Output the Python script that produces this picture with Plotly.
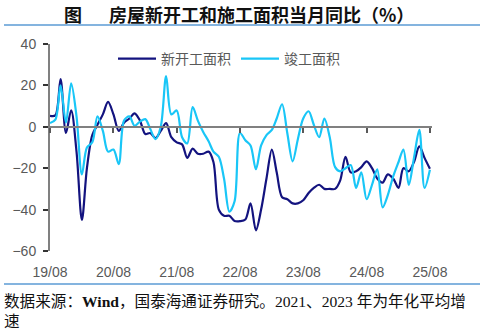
import pandas as pd
import plotly.graph_objects as go

# Monthly, 2019/08 - 2025/08
months = pd.date_range("2019-08-01", periods=73, freq="MS")

new_starts = [
    5.3, 5.5, 23, -3, 8, -12, -45, -20, -4, 1,
    6, 12, 6, -2, 2, 4, 6.5, 3, -3.5, -3,
    -5.5, -2, 1.8, -5, -7.5, -8.5, -15, -10.5, -13, -13,
    -12, -17, -40, -43, -43, -45.5, -45.6, -44.8, -37, -50,
    -40, -25, -11, -22, -34, -35, -37, -37, -35.5, -32,
    -29.5, -28, -30, -30, -30, -26, -14.5, -22, -21.5, -19.5,
    -16.7, -20, -25, -27, -23, -25, -29.5, -20, -21.5, -17,
    -9.5, -15, -20.3,
]

completions = [
    1.8, 3.5, 20, 2, 21, 5, -23, -10, -7.5, 5,
    -2, -12, -11, -18, 3, 5, 0.5, 2.5, 3.7, -1,
    -6, 0, 24.5, 6, 7.9, -5, -8, 9.5, 3, -2.5,
    -7, -12, -14.5, -25, -41, -36, -3, -6.5, -9, -20.5,
    -9, -4, -1.5, 4, 10.9, -3, -16.7, -6, 4, 7.5,
    1, -5, 4, -5, -19.5, -21.5, -20, -18.5, -29.5, -22,
    -35, -28, -20.5, -38.9, -33, -24, -17, -11, -28, -15,
    -1.5, -29.5, -20.7,
]

series_names = ["新开工面积", "竣工面积"]
series_colors = ["#13137F", "#19C6F7"]

y_ticks = [40, 20, 0, -20, -40, -60]
title_text = "图\u3000\u2002房屋新开工和施工面积当月同比（%）"
source_text = "数据来源：<b>Wind</b>，国泰海通证券研究。2021、2023 年为年化平均增<br>速"

W, H = 483, 329
ML, MR, MT, MB = 50, 51, 44, 78
PW, PH = W - ML - MR, H - MT - MB


def px_x(p):
    return (p - ML) / PW


def px_y(p):
    return (H - MB - p) / PH


fig = go.Figure()
for name, vals, col in zip(series_names, [new_starts, completions], series_colors):
    fig.add_trace(go.Scatter(
        x=months, y=vals, name=name, mode="lines",
        line=dict(color=col, width=2.2, shape="spline", smoothing=0.9),
    ))

# dummy trace to activate the zero-line axis
fig.add_trace(go.Scatter(x=[months[0]], y=[None], xaxis="x2", showlegend=False,
                         hoverinfo="skip", mode="lines"))

xrange = ["2019-08-01", "2025-08-13"]
tick_font = dict(family="Liberation Sans, Arial, sans-serif", size=14, color="#595959")

fig.update_layout(
    width=W, height=H,
    margin=dict(l=ML, r=MR, t=MT, b=MB),
    paper_bgcolor="white", plot_bgcolor="white",
    showlegend=True,
    legend=dict(
        orientation="h", x=px_x(113), y=px_y(43), xanchor="left", yanchor="top",
        font=dict(family="Noto Sans CJK SC", size=14, color="#595959"),
        itemwidth=38, bgcolor="rgba(0,0,0,0)", tracegroupgap=0,
    ),
    xaxis=dict(
        range=xrange, type="date", tick0="2019-08-01", dtick="M12",
        tickformat="%y/%m", showgrid=False, zeroline=False, showline=False,
        ticks="outside", ticklen=8, tickcolor="rgba(0,0,0,0)",
        tickfont=tick_font,
    ),
    xaxis2=dict(
        range=xrange, type="date", overlaying="x", matches="x", anchor="free",
        position=0.6, side="bottom", tick0="2019-08-01", dtick="M12",
        showticklabels=False, showgrid=False, zeroline=False,
        showline=True, linecolor="#808080", linewidth=2,
        ticks="outside", ticklen=5, tickcolor="#595959", tickwidth=1.5,
    ),
    yaxis=dict(
        range=[-60, 40], tickvals=y_ticks, showgrid=False, zeroline=False,
        showline=True, linecolor="#808080", linewidth=2,
        ticks="outside", ticklen=5, tickcolor="#333333", tickwidth=1.5,
        tickfont=tick_font, ticklabelstandoff=4,
    ),
    annotations=[
        dict(text="<b>" + title_text + "</b>", xref="paper", yref="paper",
             x=px_x(239), y=px_y(14), xanchor="center", yanchor="middle",
             showarrow=False,
             font=dict(family="Noto Sans CJK SC", size=18, color="#111111")),
        dict(text=source_text, xref="paper", yref="paper",
             x=px_x(2), y=px_y(291), xanchor="left", yanchor="top", align="left",
             showarrow=False,
             font=dict(family="Liberation Serif, Noto Sans CJK SC", size=15.6, color="#111111")),
    ],
    shapes=[
        dict(type="line", xref="paper", yref="paper", x0=px_x(4), x1=px_x(480),
             y0=px_y(25), y1=px_y(25), line=dict(color="#5B9BD5", width=1.5)),
        dict(type="line", xref="paper", yref="paper", x0=px_x(4), x1=px_x(480),
             y0=px_y(284), y1=px_y(284), line=dict(color="#5B9BD5", width=1.5)),
    ],
)

fig.write_html("out.html")
